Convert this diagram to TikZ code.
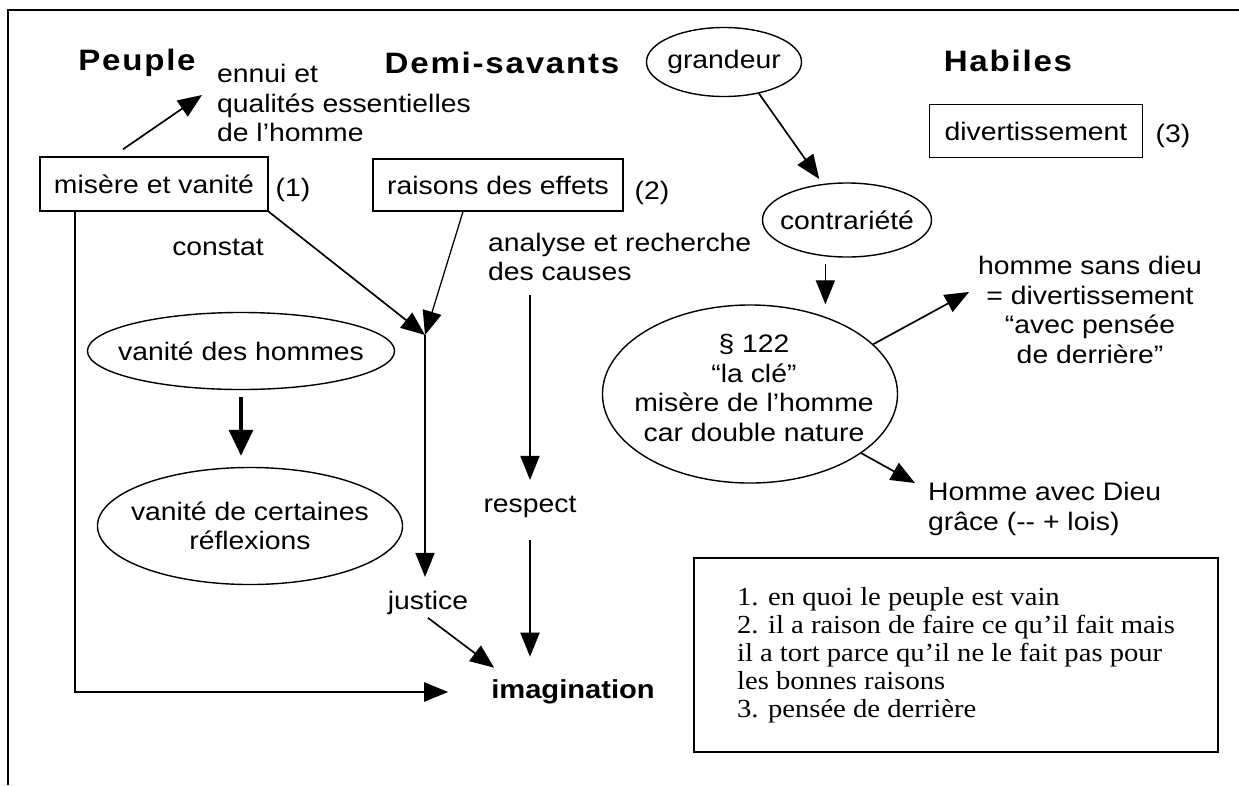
\documentclass[tikz,border=0pt]{standalone}
\usepackage{fontspec}
\setmainfont{Liberation Sans}[FakeStretch=1.12]
\newfontfamily\headfont{Liberation Sans}[FakeStretch=1.12,LetterSpace=6]
\newfontfamily\notefont{Liberation Serif}[FakeStretch=1.1]
\usetikzlibrary{arrows.meta,shapes.geometric}
\begin{document}
\begin{tikzpicture}[x=0.025cm,y=-0.025cm,
  txt/.style={font=\fontsize{18}{21}\selectfont,inner sep=2pt},
  head/.style={font=\headfont\bfseries\fontsize{21}{24}\selectfont},
  boite/.style={txt,draw,line width=1pt,minimum height=1.325cm},
  oval/.style={draw,ellipse,line width=1pt,inner sep=0pt},
  fl/.style={-{Triangle[length=0.6cm,width=0.48cm]},line width=1.2pt},
  fin/.style={fl,line width=0.9pt},
  grosfl/.style={-{Triangle[length=0.65cm,width=0.6cm]},line width=2.4pt}]
\useasboundingbox (0,0) rectangle (1239,785);
\draw[line width=1.3pt] (1239,10) -- (8,10) -- (8,785);

\node[head] (peuple) at (137,63) {Peuple};
\node[head] (demi) at (502,63) {Demi-savants};
\node[head] (habiles) at (1008,61) {Habiles};

\node[txt,anchor=west,align=left] (ennui) at (214,103) {ennui et\\qualités essentielles\\de l’homme};
\node[boite,minimum width=5.7cm,minimum height=1.35cm] (misere) at (154,184) {misère et vanité};
\node[txt] (n1) at (293,190) {(1)};
\node[txt] (constat) at (218,247) {constat};
\node[boite,minimum width=6.25cm,minimum height=1.3cm] (raisons) at (498,185) {raisons des effets};
\node[txt] (n2) at (652,193) {(2)};
\node[txt,anchor=west,align=left] (analyse) at (485,257) {analyse et recherche\\des causes};
\node[boite,minimum width=5.325cm] (divert) at (1036,131) {divertissement};
\node[txt] (n3) at (1173,136) {(3)};

\node[oval,minimum width=3.875cm,minimum height=1.725cm] (grandeur) at (724,62) {};
\node[txt] (grandeurt) at (grandeur) {grandeur};
\node[oval,minimum width=4.225cm,minimum height=1.85cm] (contra) at (847,220) {};
\node[txt] (contrat) at (contra) {contrariété};
\node[oval,minimum width=7.375cm,minimum height=4.45cm] (cle) at (750,394) {};
\node[txt,align=center] (clet) at (754,388) {§ 122\\“la clé”\\misère de l’homme\\car double nature};
\node[txt,align=center] (sansdieu) at (1090,310) {homme sans dieu\\= divertissement\\“avec pensée\\de derrière”};
\node[txt,anchor=west,align=left] (avecdieu) at (925,509) {Homme avec Dieu\\grâce (-{}- + lois)};

\node[oval,minimum width=7.675cm,minimum height=1.925cm] (hommes) at (241,351) {};
\node[txt] (hommest) at (hommes) {vanité des hommes};
\node[oval,minimum width=7.625cm,minimum height=2.925cm] (reflex) at (250,526) {};
\node[txt,align=center] (reflext) at (reflex) {vanité de certaines\\réflexions};

\node[txt] (justice) at (428,603) {justice};
\node[txt] (respect) at (530,507) {respect};
\node[txt,font=\bfseries\fontsize{18.5}{22}\selectfont] (imag) at (573,692) {imagination};

\node[draw,line width=1pt,minimum width=13.1cm,minimum height=4.85cm,align=left,
  font=\notefont\fontsize{18.5}{19.9}\selectfont] (note) at (956,655)
  {1. en quoi le peuple est vain\\2. il a raison de faire ce qu’il fait mais\\il a tort parce qu’il ne le fait pas pour\\les bonnes raisons\\3. pensée de derrière};

\coordinate (meet) at (425,335);
\coordinate (c1) at ([xshift=-0.54cm]contra.south);

\draw[fl] ([xshift=-0.775cm,yshift=0.175cm]misere.north) -- ([xshift=-0.3cm,yshift=0.2cm]ennui.west);
\draw[fl] (misere.south east) -- (meet);
\draw[fin] ([xshift=-0.875cm]raisons.south) -- (meet);
\draw[fin,shorten >=0.28cm] (meet) -- (meet |- justice.north);
\draw[fin,shorten <=0.28cm,shorten >=0.33cm] (analyse.south -| respect.north) -- (respect.north);
\draw[fin,shorten <=0.48cm,shorten >=0.5cm] (respect.south) -- (respect.south |- imag.north);
\draw[fl] (justice.south) -- ([xshift=0.15cm,yshift=0.225cm]imag.north west);
\draw[fl] ([xshift=-1.975cm]misere.south) |- ([xshift=-1.0cm]imag.west);
\draw[grosfl,shorten <=0.175cm,shorten >=0.275cm] (hommes.south) -- (hommes.south |- reflex.north);
\draw[fl,shorten >=0.15cm] (grandeur.-42) -- (contra.124);
\draw[fin] ([yshift=-0.15cm]c1) -- (c1 |- cle.north);
\draw[fl] (cle.22) -- ([xshift=-0.15cm,yshift=0.45cm]sansdieu.west);
\draw[fl] (cle.-28) -- ([xshift=-0.25cm,yshift=0.65cm]avecdieu.west);
\end{tikzpicture}
\end{document}
